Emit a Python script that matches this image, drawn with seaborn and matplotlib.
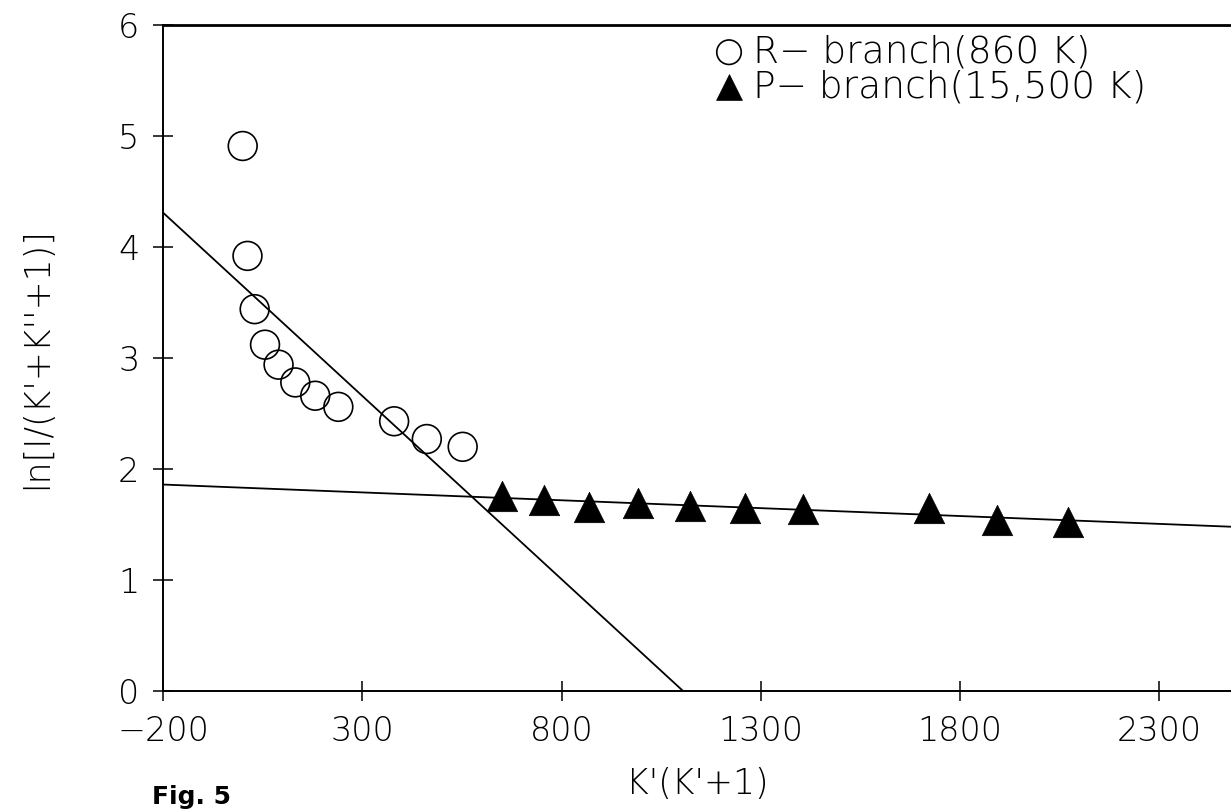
import matplotlib.pyplot as plt
import numpy as np
import pandas as pd
import seaborn as sns

# %% DATOS
# rama R: K'(K'+1) y ln[I/(K'+K''+1)]
r_x = [0, 12, 30, 56, 90, 132, 182, 240, 380, 462, 552]
r_y = [4.91, 3.92, 3.44, 3.12, 2.94, 2.78, 2.66, 2.56, 2.43, 2.27, 2.20]

# rama P
p_x = [650, 756, 870, 992, 1122, 1260, 1406, 1722, 1892, 2070]
p_y = [1.76, 1.72, 1.66, 1.69, 1.67, 1.65, 1.64, 1.65, 1.54, 1.52]

# rectas de ajuste (extremos)
fit_r_x = [-200, 1105]
fit_r_y = [4.31, 0.0]
fit_p_x = [-200, 2480]
fit_p_y = [1.86, 1.48]

x_ticks = [-200, 300, 800, 1300, 1800, 2300]
y_ticks = [0, 1, 2, 3, 4, 5, 6]

# %% GRAFICO
sns.set_style("ticks")
plt.rcParams['font.family'] = ['DejaVu Sans']
plt.rcParams['font.weight'] = 'light'
plt.rcParams['axes.labelweight'] = 'light'
plt.rcParams['text.color'] = 'black'
plt.rcParams['axes.labelcolor'] = 'black'
plt.rcParams['xtick.color'] = 'black'
plt.rcParams['ytick.color'] = 'black'
plt.rcParams['axes.edgecolor'] = 'black'

fig = plt.figure(figsize=(12.31, 8.11), dpi=100)
ax = fig.add_axes([163 / 1231, 120 / 811, 1068 / 1231, 666 / 811])

datos_r = pd.DataFrame({"x": r_x, "y": r_y})
datos_p = pd.DataFrame({"x": p_x, "y": p_y})

sns.lineplot(x=fit_r_x, y=fit_r_y, color="black", linewidth=1.3, sort=False, ax=ax)
sns.lineplot(x=fit_p_x, y=fit_p_y, color="black", linewidth=1.3, sort=False, ax=ax)

sns.scatterplot(data=datos_r, x="x", y="y", marker="o", s=430,
                facecolor="none", edgecolor="black", linewidth=1.2,
                label="R\u2212 branch(860 K)", ax=ax, zorder=3)
sns.scatterplot(data=datos_p, x="x", y="y", marker="^", s=480,
                color="black", edgecolor="black", linewidth=0.5,
                label="P\u2212 branch(15,500 K)", ax=ax, zorder=3)

ax.set_xlim(-200, 2480)
ax.set_ylim(0, 6)
ax.set_xticks(x_ticks)
ax.set_yticks(y_ticks)
ax.tick_params(direction="inout", length=14, width=1.1, labelsize=24, pad=10)

ax.spines['right'].set_visible(False)
for lado in ['left', 'bottom']:
    ax.spines[lado].set_linewidth(1.4)
ax.spines['top'].set_linewidth(2.0)

ax.set_xlabel("K'(K'+1)", fontsize=25, labelpad=14)
ax.set_ylabel("ln[I/(K'+K''+1)]", fontsize=25, labelpad=46)

ax.legend(loc="upper left", bbox_to_anchor=(714 / 1231, 0.958),
          bbox_transform=fig.transFigure, frameon=False, fontsize=27,
          handlelength=0.8, handletextpad=0.25, labelspacing=0.0,
          borderpad=0, borderaxespad=0, markerscale=0.85)

fig.text(152 / 1231, 2 / 811, "Fig. 5", fontsize=18, fontweight="bold",
         va="bottom", ha="left")

fig.savefig("out.png", dpi=100)
